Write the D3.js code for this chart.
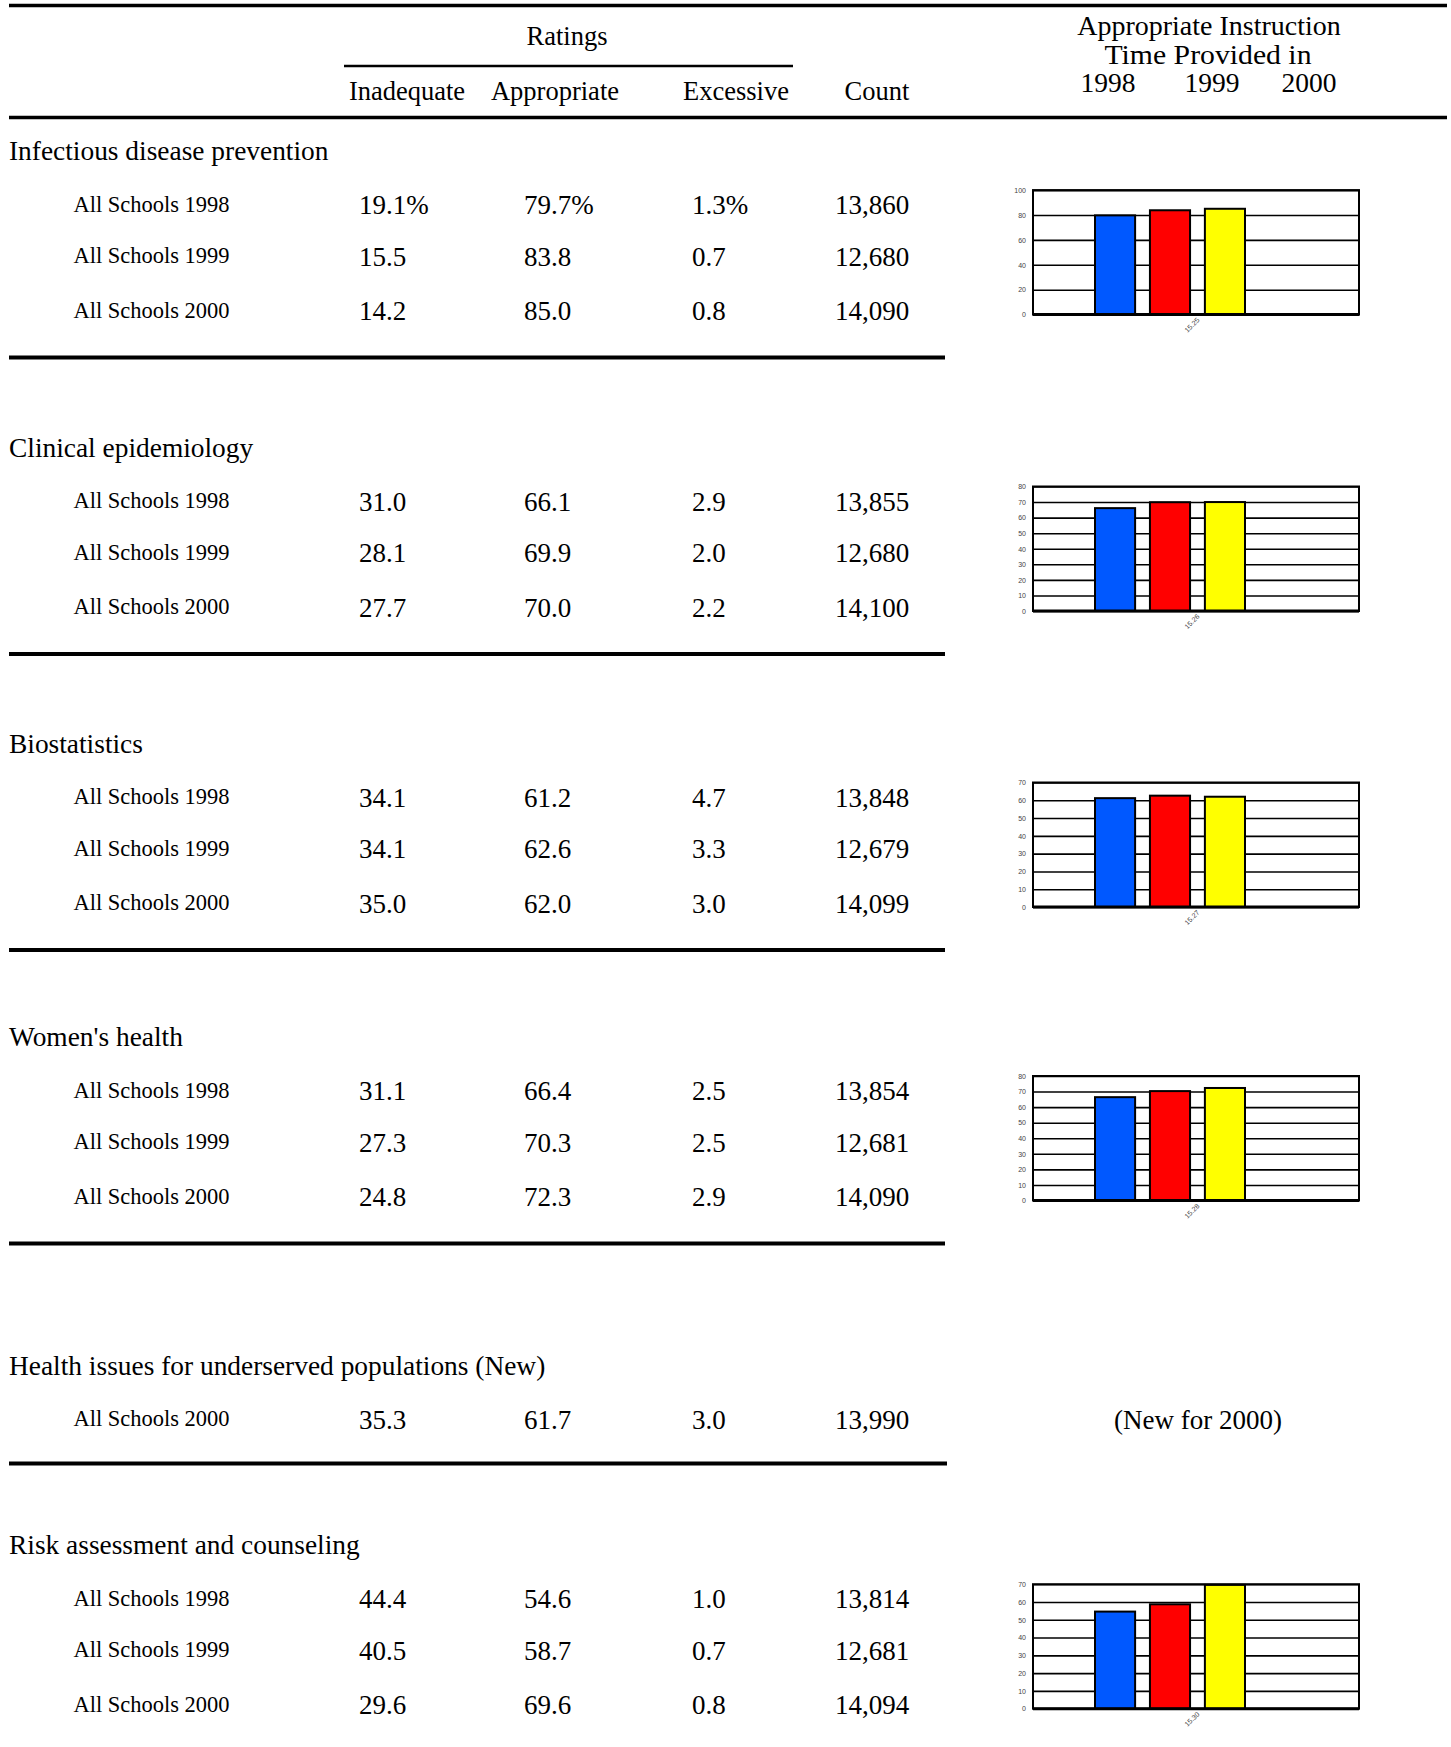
<!DOCTYPE html>
<html><head><meta charset="utf-8">
<script src="https://cdn.jsdelivr.net/npm/d3@7"></script>
<style>body{margin:0;background:#fff}</style>
</head><body>
<svg id="c" width="1451" height="1747"></svg>
<script>
// ---------- DATA ----------
const categories = [
  "Infectious disease prevention",
  "Clinical epidemiology",
  "Biostatistics",
  "Women's health",
  "Health issues for underserved populations (New)",
  "Risk assessment and counseling"
];
const rowYears = [[1998,1999,2000],[1998,1999,2000],[1998,1999,2000],[1998,1999,2000],[2000],[1998,1999,2000]];
const inadequate  = [[19.1,15.5,14.2],[31.0,28.1,27.7],[34.1,34.1,35.0],[31.1,27.3,24.8],[35.3],[44.4,40.5,29.6]];
const appropriate = [[79.7,83.8,85.0],[66.1,69.9,70.0],[61.2,62.6,62.0],[66.4,70.3,72.3],[61.7],[54.6,58.7,69.6]];
const excessive   = [[1.3,0.7,0.8],[2.9,2.0,2.2],[4.7,3.3,3.0],[2.5,2.5,2.9],[3.0],[1.0,0.7,0.8]];
const counts      = [[13860,12680,14090],[13855,12680,14100],[13848,12679,14099],[13854,12681,14090],[13990],[13814,12681,14094]];
const chartMax    = [100,80,70,80,null,70];
const chartStep   = [20,10,10,10,null,10];
const chartLabels = ["15.25","15.26","15.27","15.28",null,"15.30"];
const chartYears  = [1998,1999,2000];
const columnHeads = ["Inadequate","Appropriate","Excessive","Count"];
const newNote = "(New for 2000)";

// ---------- LAYOUT ----------
const svg = d3.select("#c");
svg.append("rect").attr("width",1451).attr("height",1747).attr("fill","#fff");
const serif = "'Liberation Serif','Times New Roman',serif";
const sans = "'Liberation Sans',Arial,sans-serif";
const barColors = {1998:"#0058ff",1999:"#ff0000",2000:"#ffff00"};

function rule(x1,x2,y,w){
  svg.append("line").attr("x1",x1).attr("x2",x2).attr("y1",y).attr("y2",y)
    .attr("stroke","#000").attr("stroke-width",w);
}
function txt(s,x,y,size,anchor,fit){
  const t = svg.append("text").attr("x",x).attr("y",y).text(s)
    .attr("font-family",serif).attr("font-size",size).attr("fill","#000")
    .attr("text-anchor",anchor||"start");
  if(fit){ t.attr("textLength",fit).attr("lengthAdjust","spacingAndGlyphs"); }
  return t;
}

// header
rule(9,1447,5.5,3.5);
txt("Ratings",567,44.5,26.5,"middle");
rule(344,793,66,2.5);
const headX = [407,555,736,877];
columnHeads.forEach((h,i)=>txt(h,headX[i],99.5,26.5,"middle"));
txt("Appropriate Instruction",1209,35,28,"middle");
txt("Time Provided in",1208,63.5,27.5,"middle",207);
const yearHeadX = [1108,1212,1309];
chartYears.forEach((yr,i)=>txt(String(yr),yearHeadX[i],92,27.5,"middle"));
rule(9,1447,117.5,3.5);

// sections
const titleMid = [151.6,448,744,1037.5,1366,1545.7];
const rowOff = [53.5,105,159.5];
const colX = [359,524,692,835];
const f1 = d3.format(".1f"), fc = d3.format(",");

categories.forEach((cat,si)=>{
  const tm = titleMid[si];
  txt(cat,9,tm+8.5,27.4,"start");
  let lastMid = tm;
  rowYears[si].forEach((yr,ri)=>{
    const mid = tm + rowOff[ri];
    lastMid = mid;
    txt("All Schools "+yr,73.5,mid+6.5,24,"start",156);
    const pct = (si===0 && ri===0) ? "%" : "";
    txt(f1(inadequate[si][ri])+pct,colX[0],mid+9,27);
    txt(f1(appropriate[si][ri])+pct,colX[1],mid+9,27);
    txt(f1(excessive[si][ri])+pct,colX[2],mid+9,27);
    txt(fc(counts[si][ri]),colX[3],mid+9,27);
  });
  if(si<categories.length-1) rule(9, si===4?947:945, lastMid + (si===4?44:46.5), 4);

  if(chartMax[si]===null){
    txt(newNote,1198,tm+rowOff[0]+9,27,"middle");
    return;
  }
  // mini chart
  const x0=1033, x1=1359, h=124.5;
  const top = tm + rowOff[0] - 15, bottom = top + h;
  const g = svg.append("g");
  const y = d3.scaleLinear().domain([0,chartMax[si]]).range([bottom,top]);
  const ticks = d3.range(0,chartMax[si]+0.001,chartStep[si]);
  const ax = g.append("g").attr("transform",`translate(${x0},0)`)
    .call(d3.axisLeft(y).tickValues(ticks).tickSizeInner(-(x1-x0)).tickSizeOuter(0).tickPadding(7).tickFormat(d3.format("d")));
  ax.select(".domain").remove();
  ax.selectAll(".tick line").attr("stroke","#000").attr("stroke-width",1.6);
  ax.selectAll(".tick text").attr("font-family",sans).attr("font-size",7).attr("fill","#444");
  g.append("rect").attr("x",x0).attr("y",top).attr("width",x1-x0).attr("height",h)
    .attr("fill","none").attr("stroke","#000").attr("stroke-width",2);
  const xb = d3.scaleBand().domain(chartYears).range([x0+62,x0+212]).paddingInner(0.27);
  g.selectAll("rect.bar").data(chartYears.map((yr,i)=>({yr,v:appropriate[si][i]})))
    .enter().append("rect").attr("class","bar")
    .attr("x",d=>xb(d.yr)).attr("width",xb.bandwidth())
    .attr("y",d=>y(d.v)).attr("height",d=>bottom-y(d.v))
    .attr("fill",d=>barColors[d.yr]).attr("stroke","#000").attr("stroke-width",2);
  g.append("line").attr("x1",x0).attr("x2",x1).attr("y1",bottom).attr("y2",bottom)
    .attr("stroke","#000").attr("stroke-width",3);
  const xc = d3.scaleBand().domain([chartLabels[si]]).range([x0,x1]);
  const xa = g.append("g").attr("transform",`translate(0,${bottom})`)
    .call(d3.axisBottom(xc).tickSize(0).tickPadding(0));
  xa.select(".domain").remove();
  xa.selectAll(".tick text").attr("font-family",sans).attr("font-size",7).attr("fill","#444")
    .attr("text-anchor","end").attr("dy",0).attr("transform","translate(4,6) rotate(-45)");
});
</script>
</body></html>
